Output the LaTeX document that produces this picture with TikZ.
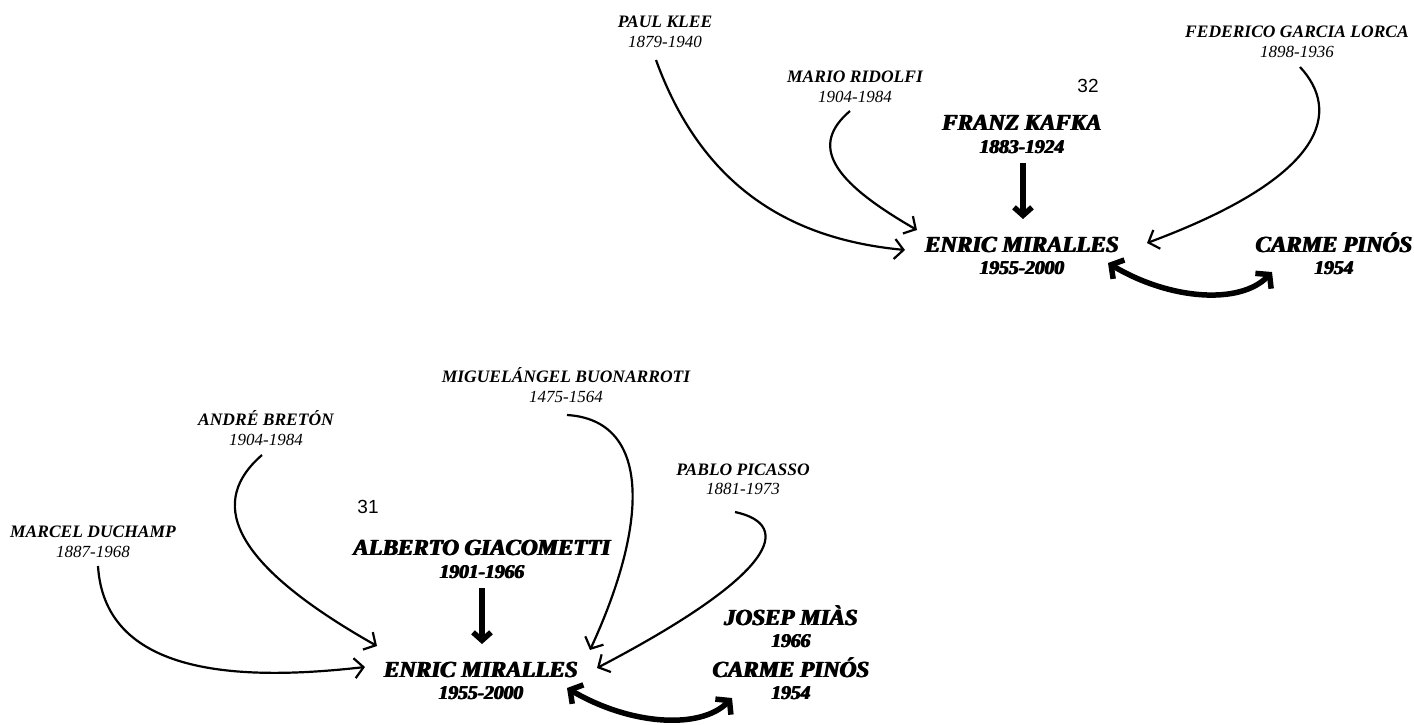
\documentclass[tikz,border=0pt]{standalone}
\usepackage{fontspec}
\setmainfont{Liberation Serif}
\newfontfamily\numfont{Liberation Sans}
\usetikzlibrary{arrows.meta}
% heavy "fat face": the same text set three times, slightly shifted
\newcommand\fatface[1]{\rlap{#1}\rlap{\kern0.7pt#1}\kern1.4pt#1}
\tikzset{
  bigname/.style={font=\bfseries\itshape\fontsize{23}{26}\selectfont, anchor=base, inner sep=0pt},
  bigdate/.style={font=\bfseries\itshape\fontsize{19.5}{22}\selectfont, anchor=base, inner sep=0pt},
  smallname/.style={font=\bfseries\itshape\fontsize{17.5}{20}\selectfont, anchor=base, inner sep=0pt},
  smalldate/.style={font=\itshape\fontsize{17}{20}\selectfont, anchor=base, inner sep=0pt},
  pagenum/.style={font=\numfont\fontsize{19}{22}\selectfont, anchor=base, inner sep=0pt},
  infl/.style={line width=2.2pt, -{Straight Barb[length=9pt,width=20pt,line width=2.2pt]}},
  strongarrow/.style={line width=5.5pt, -{Straight Barb[length=8pt,width=18pt,line width=5.5pt]}},
  mutual/.style={line width=5.5pt, {Straight Barb[length=9pt,width=22pt,line width=5.5pt]}-{Straight Barb[length=9pt,width=22pt,line width=5.5pt]}}
}
\begin{document}
\begin{tikzpicture}[x=1pt,y=-1pt]
\useasboundingbox (0,0) rectangle (1414,724);
% ---------- top diagram (32) ----------
\node[smallname] (klee) at (665,27) {PAUL KLEE};
\node[smalldate] (kleeD) at (665,47) {1879-1940};
\node[smallname] (ridolfi) at (855,82) {MARIO RIDOLFI};
\node[smalldate] (ridolfiD) at (855,102) {1904-1984};
\node[smallname] (lorca) at (1297,37) {FEDERICO GARCIA LORCA};
\node[smalldate] (lorcaD) at (1297,57) {1898-1936};
\node[pagenum] (p32) at (1088,92) {32};
\node[bigname] (kafka) at (1022,130) {\fatface{FRANZ KAFKA}};
\node[bigdate] (kafkaD) at (1022,153) {\fatface{1883-1924}};
\node[bigname] (em1) at (1022,252) {\fatface{ENRIC MIRALLES}};
\node[bigdate] (em1D) at (1022,274) {\fatface{1955-2000}};
\node[bigname] (cp1) at (1334,252) {\fatface{CARME PIN\'OS}};
\node[bigdate] (cp1D) at (1334,274) {\fatface{1954}};

\coordinate (kleeS) at (656,60);
\coordinate (kleeE) at (905,250);
\coordinate (ridS) at (850,111);
\coordinate (ridE) at (917,230);
\coordinate (lorS) at (1300,67);
\coordinate (lorE) at (1147,243);
\coordinate (kafS) at (1023,163);
\coordinate (kafE) at (1023,219);
\coordinate (mu1L) at (1108,263);
\coordinate (mu1R) at (1272,272);

\draw[infl] (kleeS) .. controls (705,195) and (800,240) .. (kleeE);
\draw[infl] (ridS) .. controls (810,145) and (830,180) .. (ridE);
\draw[infl] (lorS) .. controls (1340,110) and (1330,175) .. (lorE);
\draw[strongarrow] (kafS) -- (kafE);
\draw[mutual] (mu1L) .. controls (1170,300) and (1240,305) .. (mu1R);

% ---------- bottom diagram (31) ----------
\node[smallname] (buon) at (566,382) {MIGUEL\'ANGEL BUONARROTI};
\node[smalldate] (buonD) at (566,402) {1475-1564};
\node[smallname] (breton) at (266,425) {ANDR\'E BRET\'ON};
\node[smalldate] (bretonD) at (266,445) {1904-1984};
\node[smallname] (picasso) at (743,475) {PABLO PICASSO};
\node[smalldate] (picassoD) at (743,494) {1881-1973};
\node[pagenum] (p31) at (368,513) {31};
\node[smallname] (duchamp) at (93,537) {MARCEL DUCHAMP};
\node[smalldate] (duchampD) at (93,557) {1887-1968};
\node[bigname] (giac) at (482,555) {\fatface{ALBERTO GIACOMETTI}};
\node[bigdate] (giacD) at (482,578) {\fatface{1901-1966}};
\node[bigname] (mias) at (791,625) {\fatface{JOSEP MI\`AS}};
\node[bigdate] (miasD) at (791,647) {\fatface{1966}};
\node[bigname] (em2) at (481,677) {\fatface{ENRIC MIRALLES}};
\node[bigdate] (em2D) at (481,699) {\fatface{1955-2000}};
\node[bigname] (cp2) at (791,677) {\fatface{CARME PIN\'OS}};
\node[bigdate] (cp2D) at (791,699) {\fatface{1954}};

\coordinate (duS) at (98,566);
\coordinate (duE) at (365,667);
\coordinate (brS) at (262,455);
\coordinate (brE) at (377,646);
\coordinate (buS) at (567,415);
\coordinate (buE) at (590,650);
\coordinate (piS) at (735,512);
\coordinate (piE) at (597,668);
\coordinate (giS) at (482,588);
\coordinate (giE) at (482,644);
\coordinate (mu2L) at (567,688);
\coordinate (mu2R) at (732,698);

\draw[infl] (duS) .. controls (105,680) and (250,680) .. (duE);
\draw[infl] (brS) .. controls (210,500) and (225,560) .. (brE);
\draw[infl] (buS) .. controls (650,420) and (650,520) .. (buE);
\draw[infl] (piS) .. controls (795,525) and (775,575) .. (piE);
\draw[strongarrow] (giS) -- (giE);
\draw[mutual] (mu2L) .. controls (630,725) and (700,730) .. (mu2R);
\end{tikzpicture}
\end{document}
